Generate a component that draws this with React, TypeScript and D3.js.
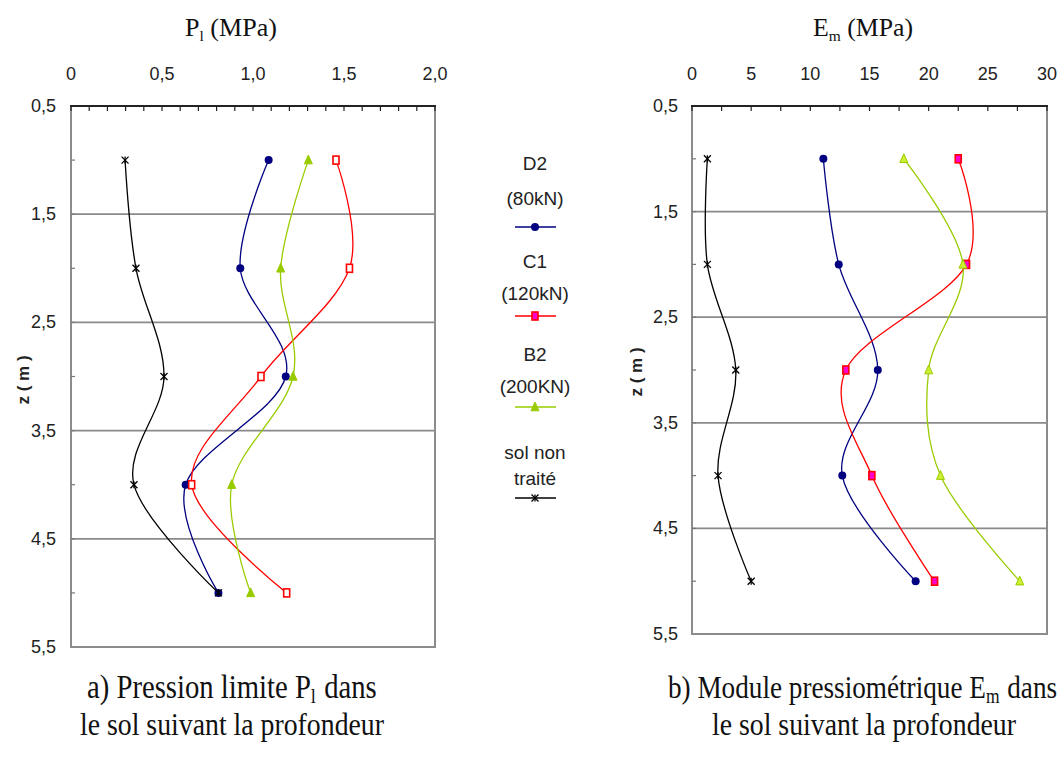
import React from "react";
import * as d3 from "d3";

// depth (m)
const depths = [1, 2, 3, 4, 5];
// Pl (MPa)
const plD2 = [1.086, 0.93, 1.18, 0.63, 0.81];
const plC1 = [1.456, 1.53, 1.044, 0.663, 1.185];
const plB2 = [1.304, 1.152, 1.22, 0.883, 0.987];
const plSol = [0.297, 0.357, 0.511, 0.346, 0.81];
// Em (MPa)
const emD2 = [11.1, 12.4, 15.7, 12.7, 18.9];
const emC1 = [22.5, 23.2, 13.0, 15.2, 20.5];
const emB2 = [17.9, 22.9, 20.0, 21.0, 27.7];
const emSol = [1.3, 1.3, 3.7, 2.2, 5.0];

const plTicks = [0, 0.5, 1.0, 1.5, 2.0];
const emTicks = [0, 5, 10, 15, 20, 25, 30];
const zTicks = [0.5, 1.5, 2.5, 3.5, 4.5, 5.5];
const gridZ = [1.5, 2.5, 3.5, 4.5];

const seriesNames = ["D2", "C1", "B2", "sol"];
const legendLabels = [
  ["D2", "(80kN)"],
  ["C1", "(120kN)"],
  ["B2", "(200KN)"],
  ["sol non", "traité"],
];

const COLORS: Record<string, string> = {
  D2: "#000080",
  C1: "#ff0000",
  B2: "#99cc00",
  sol: "#000000",
};

const SANS = "'Liberation Sans', Arial, sans-serif";
const SERIF = "'Liberation Serif', 'Times New Roman', serif";

function fmtComma(v: number, dec: number) {
  if (v === 0) return "0";
  return d3.format(`.${dec}f`)(v).replace(".", ",");
}

function Marker({ type, x, y, filledSquare }: { type: string; x: number; y: number; filledSquare?: boolean }) {
  if (type === "D2") {
    return <circle cx={x} cy={y} r={4} fill={COLORS.D2} />;
  }
  if (type === "C1") {
    return (
      <rect
        x={x - 3}
        y={y - 4}
        width={6}
        height={8}
        fill={filledSquare ? "#ff00cc" : "#ffffff"}
        stroke={COLORS.C1}
        strokeWidth={1.6}
      />
    );
  }
  if (type === "B2") {
    const s = 5;
    return (
      <path
        d={`M${x},${y - s} L${x + s * 0.8},${y + s * 0.75} L${x - s * 0.8},${y + s * 0.75} Z`}
        fill={filledSquare ? "#ccee33" : COLORS.B2}
        stroke={COLORS.B2}
        strokeWidth={1}
      />
    );
  }
  const s = 3.5;
  return (
    <g stroke="#000" strokeWidth={1.3}>
      <line x1={x - s} y1={y - s} x2={x + s} y2={y + s} />
      <line x1={x - s} y1={y + s} x2={x + s} y2={y - s} />
      <line x1={x} y1={y - s} x2={x} y2={y + s} />
    </g>
  );
}

type PanelProps = {
  x0: number;
  x1: number;
  y0: number;
  y1: number;
  domain: [number, number];
  majorTicks: number[];
  minorStep: number;
  dec: number;
  data: Record<string, number[]>;
  filled: boolean;
  title: string;
  sub: string;
  titleX: number;
  titleW: number;
  zLabelX: number;
  zTitleX: number;
  zTitleY: number;
};

function Panel(p: PanelProps) {
  const x = d3.scaleLinear().domain(p.domain).range([p.x0, p.x1]);
  const y = d3.scaleLinear().domain([0.5, 5.5]).range([p.y0, p.y1]);
  const minor = d3.range(p.domain[0], p.domain[1] + p.minorStep / 2, p.minorStep);
  const line = d3
    .line<number>()
    .x((d) => x(d))
    .y((_, i) => y(depths[i]))
    .curve(d3.curveCatmullRom.alpha(0));
  const zMinor = d3.range(1, 5.01, 0.5);

  return (
    <g>
      {/* title */}
      <text
        x={p.titleX}
        y={36}
        fontFamily={SERIF}
        fontSize={25}
        textLength={p.titleW}
        lengthAdjust="spacingAndGlyphs"
        fill="#111"
      >
        {p.title}
        <tspan fontSize={15} dy={5}>{p.sub}</tspan>
        <tspan dy={-5}> (MPa)</tspan>
      </text>
      {/* grid */}
      {gridZ.map((z) => (
        <line key={z} x1={p.x0} x2={p.x1} y1={y(z)} y2={y(z)} stroke="#8a8a8a" strokeWidth={1.8} />
      ))}
      {/* box */}
      <rect x={p.x0} y={p.y0} width={p.x1 - p.x0} height={p.y1 - p.y0} fill="none" stroke="#8c8c8c" strokeWidth={2} />
      <line x1={p.x0 - 1} x2={p.x1 + 1} y1={p.y0} y2={p.y0} stroke="#222" strokeWidth={2} />
      {/* top ticks */}
      {minor.map((v, i) => (
        <line key={i} x1={x(v)} x2={x(v)} y1={p.y0} y2={p.y0 + 5} stroke="#222" strokeWidth={1.2} />
      ))}
      {p.majorTicks.map((v) => (
        <text
          key={v}
          x={x(v)}
          y={80}
          textAnchor="middle"
          fontFamily={SANS}
          fontSize={18}
          fill="#222"
        >
          {fmtComma(v, p.dec)}
        </text>
      ))}
      {/* left ticks */}
      {zMinor.map((z) => (
        <line key={z} x1={p.x0} x2={p.x0 + 4} y1={y(z)} y2={y(z)} stroke="#777" strokeWidth={1.2} />
      ))}
      {zTicks.map((z) => (
        <text
          key={z}
          x={p.zLabelX}
          y={y(z) + 6}
          textAnchor="end"
          fontFamily={SANS}
          fontSize={18}
          fill="#222"
        >
          {fmtComma(z, 1)}
        </text>
      ))}
      <text
        transform={`translate(${p.zTitleX},${p.zTitleY}) rotate(-90)`}
        textAnchor="middle"
        fontFamily={SANS}
        fontWeight="bold"
        fontSize={17}
        fill="#222"
      >
        z ( m )
      </text>
      {/* series */}
      {seriesNames.map((s) => (
        <path key={s} d={line(p.data[s]) || ""} fill="none" stroke={COLORS[s]} strokeWidth={1.3} />
      ))}
      {seriesNames.map((s) =>
        p.data[s].map((v, i) => <Marker key={s + i} type={s} x={x(v)} y={y(depths[i])} filledSquare={p.filled} />)
      )}
    </g>
  );
}

function Legend() {
  const cx = 535;
  const rows = [
    { l1: 170, l2: 205, ly: 227 },
    { l1: 268, l2: 300, ly: 316 },
    { l1: 361, l2: 393, ly: 407 },
    { l1: 459, l2: 485, ly: 498 },
  ];
  return (
    <g>
      {seriesNames.map((s, i) => (
        <g key={s}>
          <text x={cx} y={rows[i].l1} textAnchor="middle" fontFamily={SANS} fontSize={19} fill="#222">
            {legendLabels[i][0]}
          </text>
          <text x={cx} y={rows[i].l2} textAnchor="middle" fontFamily={SANS} fontSize={19} fill="#222">
            {legendLabels[i][1]}
          </text>
          <line x1={515} x2={556} y1={rows[i].ly} y2={rows[i].ly} stroke={COLORS[s]} strokeWidth={1.5} />
          <Marker type={s} x={cx} y={rows[i].ly} filledSquare={s === "C1"} />
        </g>
      ))}
    </g>
  );
}

function Caption({ x, y, w, fs = 28, children }: { x: number; y: number; w?: number; fs?: number; children: React.ReactNode }) {
  return (
    <text
      transform={`translate(${x},${y}) scale(1,1.15)`}
      fontFamily={SERIF}
      fontSize={fs}
      textLength={w}
      lengthAdjust={w ? "spacingAndGlyphs" : undefined}
      fill="#111"
    >
      {children}
    </text>
  );
}

export default function App() {
  return (
    <svg
      width={1059}
      height={760}
      style={{ position: "absolute", left: 0, top: 0, background: "#fff" }}
    >
      <rect width={1059} height={760} fill="#fff" />
      <Panel
        x0={71}
        x1={435}
        y0={106}
        y1={647}
        domain={[0, 2]}
        majorTicks={plTicks}
        minorStep={0.1}
        dec={1}
        data={{ D2: plD2, C1: plC1, B2: plB2, sol: plSol }}
        filled={false}
        title="P"
        sub="l"
        titleX={185}
        titleW={92}
        zLabelX={56}
        zTitleX={29}
        zTitleY={380}
      />
      <Panel
        x0={692}
        x1={1047}
        y0={106}
        y1={634}
        domain={[0, 30]}
        majorTicks={emTicks}
        minorStep={2.5}
        dec={0}
        data={{ D2: emD2, C1: emC1, B2: emB2, sol: emSol }}
        filled={true}
        title="E"
        sub="m"
        titleX={813}
        titleW={100}
        zLabelX={678}
        zTitleX={642}
        zTitleY={372}
      />
      <Legend />
      <Caption x={87} y={698} fs={28.7}>
        a) Pression limite P<tspan fontSize={18.4} dy={4}>l</tspan>
        <tspan dy={-4} dx={1}> dans</tspan>
      </Caption>
      <Caption x={80} y={735} w={304}>le sol suivant la profondeur</Caption>
      <Caption x={668} y={698} fs={27.2}>
        b) Module pressiométrique E<tspan fontSize={17.5} dy={4}>m</tspan>
        <tspan dy={-4} dx={1}> dans</tspan>
      </Caption>
      <Caption x={712} y={735} w={304}>le sol suivant la profondeur</Caption>
    </svg>
  );
}
